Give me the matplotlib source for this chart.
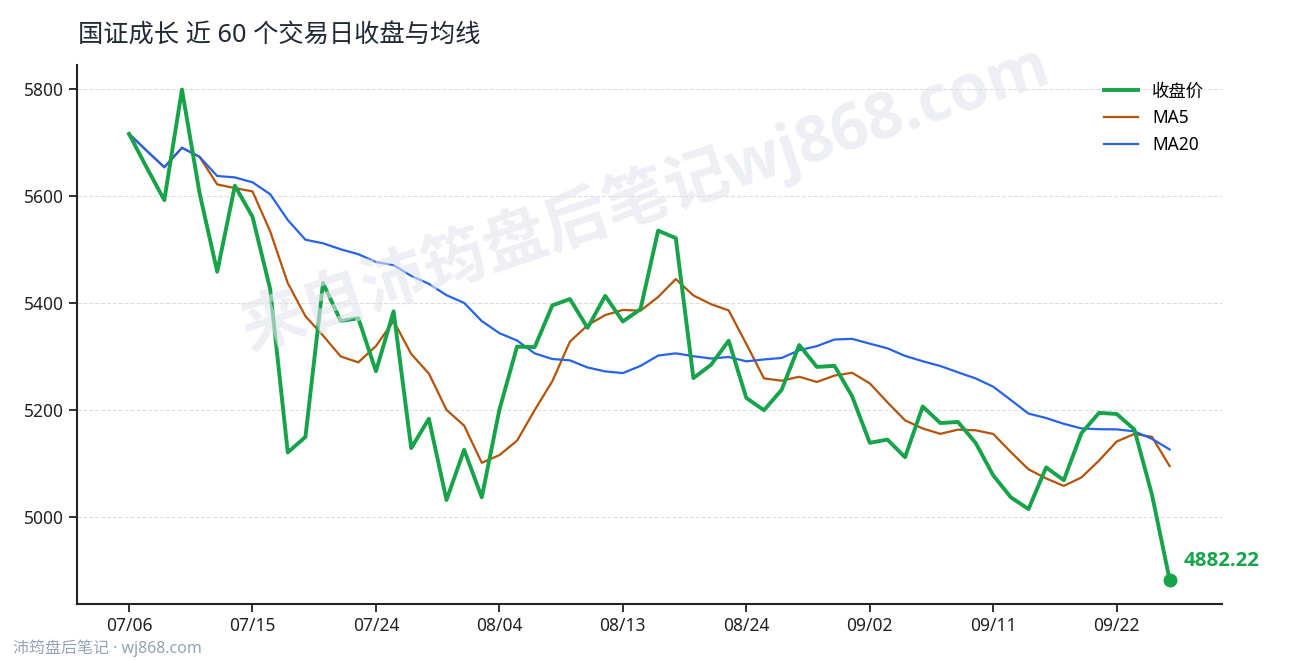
import pandas as pd
import matplotlib
matplotlib.use("Agg")
import matplotlib.pyplot as plt

plt.rcParams['font.family'] = ['Noto Sans', 'Noto Sans CJK SC', 'DejaVu Sans']
bold_fonts = ['Open Sans', 'Noto Sans CJK SC', 'DejaVu Sans']

# closing prices for the last 60 trading days
close = [5716, 5653, 5592, 5799, 5605, 5458, 5619, 5561, 5426, 5120,
         5149, 5437, 5366, 5371, 5272, 5384, 5128, 5183, 5031, 5125,
         5036, 5200, 5318, 5317, 5395, 5407, 5353, 5413, 5365, 5388,
         5535, 5521, 5259, 5284, 5329, 5222, 5199, 5237, 5321, 5280,
         5282, 5225, 5138, 5144, 5111, 5206, 5175, 5177, 5138, 5077,
         5036, 5014, 5092, 5068, 5156, 5194, 5192, 5163, 5041, 4882.22]
tick_pos = [0, 7, 14, 21, 28, 35, 42, 49, 56]
tick_labels = ["07/06", "07/15", "07/24", "08/04", "08/13",
               "08/24", "09/02", "09/11", "09/22"]

df = pd.DataFrame({"close": close})
df["ma5"] = df["close"].rolling(5, min_periods=1).mean()
df["ma20"] = df["close"].rolling(20, min_periods=1).mean()

green = "#16a34a"
orange = "#b45309"
blue = "#2563eb"

fig = plt.figure(figsize=(12.9, 6.6), dpi=100)
ax = fig.add_axes([0.0597, 0.0848, 0.8873, 0.8167])

ax.plot(df.index, df["close"], color=green, lw=2.8, label="收盘价", zorder=4)
ax.plot(df.index, df["ma5"], color=orange, lw=1.6, label="MA5", zorder=3)
ax.plot(df.index, df["ma20"], color=blue, lw=1.6, label="MA20", zorder=3)

last = len(close) - 1
ax.plot(last, close[-1], "o", color=green, ms=9, zorder=5)
ax.annotate(f"{close[-1]:.2f}", (last, close[-1]), xytext=(10, 13),
            textcoords="offset points", color=green, fontsize=14.7,
            fontweight="bold", family=bold_fonts, va="center", ha="left")

ax.set_xticks(tick_pos)
ax.set_xticklabels(tick_labels)
ax.set_yticks([5000, 5200, 5400, 5600, 5800])
ax.tick_params(labelsize=12.5, colors="#222222", length=6, width=1.3)
ax.grid(axis="y", color="#dddddd", linestyle="--", linewidth=0.8)
ax.set_axisbelow(True)
for s in ["top", "right"]:
    ax.spines[s].set_visible(False)
for s in ["left", "bottom"]:
    ax.spines[s].set_color("#222222")
    ax.spines[s].set_linewidth(1.5)

leg = ax.legend(loc="upper right", frameon=False, fontsize=12.5,
                handlelength=2.0, borderaxespad=0.6)

fig.text(0.0605, 0.945, "国证成长 近 60 个交易日收盘与均线", fontsize=18.2,
         color="#1f2937", va="center", ha="left")
fig.text(0.5, 0.70, "来自沛筠盘后笔记wj868.com", fontsize=46, fontweight="bold",
         family=bold_fonts, color="#e2e5ee", alpha=0.6, rotation=18.5,
         ha="center", va="center", zorder=0)
fig.text(0.010, 0.018, "沛筠盘后笔记 · wj868.com", fontsize=11.5,
         color="#94a3b8", ha="left", va="center")

fig.savefig("out.png", dpi=100)
